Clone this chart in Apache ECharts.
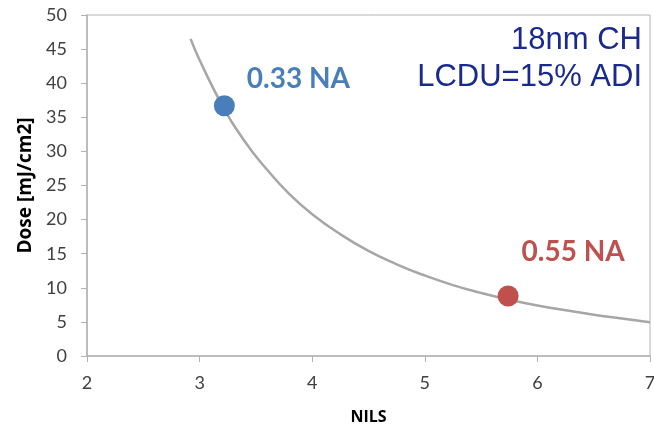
<!DOCTYPE html>
<html><head><meta charset="utf-8">
<script src="https://cdn.jsdelivr.net/npm/echarts@6/dist/echarts.min.js"></script>
<style>html,body{margin:0;padding:0;background:#fff}#c{width:654px;height:424px}</style>
</head><body><div id="c"></div>
<script>
// Trend curve
const curveNils = [2.92, 3.0, 3.2, 3.4, 3.6, 3.8, 4.0, 4.25, 4.5, 4.75, 5.0, 5.25, 5.5, 5.75, 6.0, 6.25, 6.5, 6.75, 7.0];
const curveDose = [46.5, 43.4, 36.8, 31.5, 27.3, 23.7, 20.8, 17.85, 15.4, 13.45, 11.8, 10.4, 9.25, 8.25, 7.4, 6.7, 6.05, 5.5, 4.95];
// Highlighted points
const pointLabels = ['0.33 NA', '0.55 NA'];
const pointNils = [3.22, 5.74];
const pointDose = [36.7, 8.8];
const pointColors = ['#4a7ebb', '#c0504d'];
const titleLines = ['18nm CH', 'LCDU=15% ADI'];

const chart = echarts.init(document.getElementById('c'));
const axisFont = {fontFamily: 'Lato', fontSize: 18, color: '#404040'};
chart.setOption({
  animation: false,
  grid: {left: 87, right: 4, top: 15, bottom: 68, show: true, borderColor: '#b3b3b3', borderWidth: 1,
         containLabel: false, outerBoundsMode: 'none'},
  xAxis: {
    type: 'value', min: 2, max: 7, interval: 1,
    name: 'NILS', nameLocation: 'middle', nameGap: 53,
    nameTextStyle: {fontFamily: 'Open Sans', fontSize: 16, fontWeight: 'bold', color: '#000'},
    axisLine: {show: true, lineStyle: {color: '#b3b3b3', width: 1.5}},
    axisTick: {show: true, length: 6, lineStyle: {color: '#b3b3b3'}},
    axisLabel: Object.assign({margin: 18}, axisFont),
    splitLine: {show: false}
  },
  yAxis: {
    type: 'value', min: 0, max: 50, interval: 5,
    name: 'Dose [mJ/cm2]', nameLocation: 'middle', nameGap: 49, nameRotate: 90,
    nameTextStyle: {fontFamily: 'Open Sans', fontSize: 19, fontWeight: 'bold', color: '#000'},
    axisLine: {show: true, lineStyle: {color: '#b3b3b3', width: 1.5}},
    axisTick: {show: true, length: 6, lineStyle: {color: '#b3b3b3'}},
    axisLabel: Object.assign({margin: 20}, axisFont),
    splitLine: {show: false}
  },
  graphic: titleLines.map((t, i) => ({
    type: 'text', right: 12, top: 25 + i * 37,
    style: {text: t, fill: '#1a2a8c', font: '31px "Liberation Sans"'}
  })),
  series: [
    {
      type: 'line', smooth: true, symbol: 'none',
      data: curveNils.map((x, i) => [x, curveDose[i]]),
      lineStyle: {color: '#a6a6a6', width: 2.5}, z: 2
    },
    {
      type: 'scatter', symbolSize: 21, z: 3,
      data: pointNils.map((x, i) => ({
        value: [x, pointDose[i]],
        itemStyle: {color: pointColors[i], opacity: 1},
        label: {
          show: true, formatter: pointLabels[i], color: pointColors[i],
          position: 'right', offset: i === 0 ? [7, -27] : [-2, -44],
          fontFamily: 'Lato', fontWeight: 'bold', fontSize: 28
        }
      }))
    }
  ]
});
</script></body></html>
